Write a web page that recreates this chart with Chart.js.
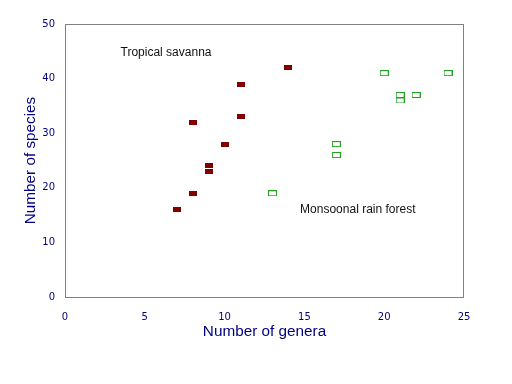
<!DOCTYPE html>
<html>
<head>
<meta charset="utf-8">
<script src="https://cdn.jsdelivr.net/npm/chart.js@4/dist/chart.umd.min.js"></script>
<style>
  html, body { margin: 0; padding: 0; background: #fff; }
  #wrap { width: 512px; height: 384px; }
</style>
</head>
<body>
<div id="wrap"><canvas id="c"></canvas></div>
<script>
// Genera vs species, two vegetation types
const savannaGenera = [7, 8, 8, 9, 9, 10, 11, 11, 14];
const savannaSpecies = [16, 19, 32, 24, 23, 28, 33, 39, 42];
const forestGenera = [13, 17, 17, 20, 21, 21, 22, 24];
const forestSpecies = [19, 28, 26, 41, 37, 36, 37, 41];

const xTicks = [0, 5, 10, 15, 20, 25];
const yTicks = [0, 10, 20, 30, 40, 50];

// labels placed in data units
const notes = [
    { text: "Tropical savanna", x: 3.48, y: 44.8 },
    { text: "Monsoonal rain forest", x: 14.73, y: 15.9 }
];

const NAVY = "#000080";

function toPoints(xs, ys) {
    return xs.map((x, i) => ({ x: x, y: ys[i] }));
}

// small rectangle markers (wider than tall)
function rectMarker(w, h, fill, stroke) {
    const cv = document.createElement("canvas");
    cv.width = w; cv.height = h;
    const g = cv.getContext("2d");
    if (fill) { g.fillStyle = fill; g.fillRect(0, 0, w, h); }
    if (stroke) { g.strokeStyle = stroke; g.lineWidth = 1; g.strokeRect(0.5, 0.5, w - 1, h - 1); }
    return cv;
}

const frameAndNotes = {
    id: "frameAndNotes",
    beforeDatasetsDraw(chart) {
        const { ctx, chartArea: a } = chart;
        ctx.save();
        ctx.strokeStyle = "#808080";
        ctx.lineWidth = 1;
        ctx.strokeRect(Math.round(a.left) + 0.5, Math.round(a.top) + 0.5,
            Math.round(a.right - a.left) - 1, Math.round(a.bottom - a.top));
        ctx.restore();
    },
    afterDatasetsDraw(chart) {
        const { ctx, scales } = chart;
        ctx.save();
        ctx.fillStyle = "#111";
        ctx.font = "12px 'Liberation Sans', Arial, sans-serif";
        ctx.textAlign = "left";
        ctx.textBaseline = "middle";
        notes.forEach(n => {
            ctx.fillText(n.text, scales.x.getPixelForValue(n.x), scales.y.getPixelForValue(n.y));
        });
        ctx.restore();
    }
};

new Chart(document.getElementById("c"), {
    type: "scatter",
    data: {
        datasets: [
            {
                label: "Tropical savanna",
                data: toPoints(savannaGenera, savannaSpecies),
                pointStyle: rectMarker(8, 5, "#800000", null),
                pointRadius: 4,
                backgroundColor: "#800000", borderColor: "#800000"
            },
            {
                label: "Monsoonal rain forest",
                data: toPoints(forestGenera, forestSpecies),
                pointStyle: rectMarker(9, 6, null, "#22a022"),
                pointRadius: 4,
                backgroundColor: "#22a022", borderColor: "#22a022"
            }
        ]
    },
    options: {
        responsive: true, maintainAspectRatio: false, animation: false,
        layout: { padding: { top: 24, right: 48, left: 0, bottom: 0 } },
        plugins: { legend: { display: false }, tooltip: { enabled: false } },
        scales: {
            x: {
                type: "linear", min: 0, max: 25,
                grid: { display: false, drawTicks: false }, border: { display: false },
                afterBuildTicks: s => { s.ticks = xTicks.map(v => ({ value: v })); },
                afterFit: s => { s.height = 87; },
                ticks: { color: NAVY, padding: 14, font: { family: "'DejaVu Sans', Verdana, sans-serif", size: 10 } },
                title: {
                    display: true, text: "Number of genera", color: NAVY,
                    font: { family: "'Liberation Sans', Arial, sans-serif", size: 15.3 },
                    padding: { top: 0, bottom: 43 }
                }
            },
            y: {
                type: "linear", min: 0, max: 50,
                grid: { display: false, drawTicks: false }, border: { display: false },
                afterBuildTicks: s => { s.ticks = yTicks.map(v => ({ value: v })); },
                afterFit: s => { s.width = 65; },
                ticks: { color: NAVY, padding: 10, font: { family: "'DejaVu Sans', Verdana, sans-serif", size: 10 } },
                title: {
                    display: true, text: "Number of species", color: NAVY,
                    font: { family: "'Liberation Sans', Arial, sans-serif", size: 15.3 },
                    padding: { top: 22, bottom: 0 }
                }
            }
        }
    },
    plugins: [frameAndNotes]
});
</script>
</body>
</html>
